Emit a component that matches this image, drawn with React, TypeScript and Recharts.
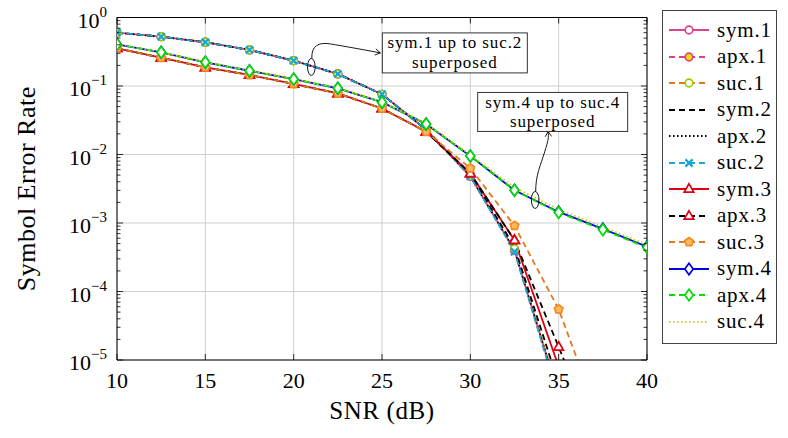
import { CartesianGrid, Label, Line, LineChart, ReferenceDot, XAxis, YAxis } from "recharts";

const FONT = "'Liberation Serif', 'DejaVu Serif', serif";

// SNR grid (dB) and symbol error rates per receiver
const snr = [10, 12.5, 15, 17.5, 20, 22.5, 25, 27.5, 30, 32.5, 35, 37.5, 40];

const sym1 = [0.6, 0.525, 0.435, 0.336, 0.234, 0.15, 0.0757, 0.023, 0.0048, 0.0004, 3e-6, null, null];
const apx1 = [0.6, 0.525, 0.435, 0.336, 0.234, 0.15, 0.0757, 0.023, 0.0048, 0.0004, 3e-6, null, null];
const suc1 = [0.6, 0.525, 0.435, 0.336, 0.234, 0.15, 0.0757, 0.023, 0.0049, 0.00042, 3.2e-6, null, null];
const sym2 = [0.6, 0.525, 0.435, 0.336, 0.234, 0.15, 0.0757, 0.023, 0.0051, 0.00045, 4.5e-6, null, null];
const apx2 = [0.6, 0.525, 0.435, 0.336, 0.234, 0.15, 0.0757, 0.023, 0.0048, 0.0004, 3e-6, null, null];
const suc2 = [0.6, 0.525, 0.435, 0.336, 0.234, 0.15, 0.0757, 0.023, 0.0048, 0.00038, 2.7e-6, null, null];

const sym3 = [0.355, 0.259, 0.187, 0.145, 0.107, 0.078, 0.047, 0.0215, 0.0053, 0.00056, 8e-6, null, null];
const apx3 = [0.355, 0.259, 0.187, 0.145, 0.107, 0.078, 0.047, 0.0215, 0.0053, 0.00056, 1.55e-5, 4e-7, null];
const suc3 = [0.355, 0.259, 0.187, 0.145, 0.107, 0.078, 0.047, 0.0215, 0.0063, 0.00091, 5.5e-5, 1e-6, null];

const sym4 = [0.406, 0.31, 0.222, 0.167, 0.126, 0.0925, 0.058, 0.0279, 0.0095, 0.003, 0.00145, 0.00082, 0.00045];
const apx4 = [0.406, 0.31, 0.222, 0.167, 0.126, 0.0925, 0.058, 0.0279, 0.0095, 0.003, 0.00142, 0.0008, 0.00044];
const suc4 = [0.41, 0.313, 0.225, 0.17, 0.128, 0.094, 0.059, 0.0285, 0.0099, 0.0033, 0.00157, 0.00088, 0.00048];

const xTicks = [10, 15, 20, 25, 30, 35, 40];
const decades = [1e-5, 1e-4, 1e-3, 1e-2, 1e-1, 1];
const exponents = ["−5", "−4", "−3", "−2", "−1", "0"];

// all log ticks: 1..9 × each decade
const yTicks: number[] = [];
decades.forEach((d, i) => {
  if (i === decades.length - 1) {
    yTicks.push(d);
    return;
  }
  for (let m = 1; m < 10; m++) yTicks.push(+(m * d).toPrecision(3));
});

type Marker = "circle" | "triangle" | "diamond" | "cross" | "pentagon" | "none";

type Series = {
  key: string;
  name: string;
  values: (number | null)[];
  stroke: string;
  dash?: string;
  marker: Marker;
  markStroke?: string;
  markFill?: string;
};

const series: Series[] = [
  { key: "sym1", name: "sym.1", values: sym1, stroke: "#d9428f", marker: "circle", markStroke: "#d9428f", markFill: "#fff" },
  { key: "apx1", name: "apx.1", values: apx1, stroke: "#d9428f", dash: "6 4", marker: "circle", markStroke: "#d9428f", markFill: "#f2e200" },
  { key: "suc1", name: "suc.1", values: suc1, stroke: "#e07a1c", dash: "6 4", marker: "circle", markStroke: "#9ccc00", markFill: "#fff" },
  { key: "sym2", name: "sym.2", values: sym2, stroke: "#000", dash: "6 4", marker: "none" },
  { key: "apx2", name: "apx.2", values: apx2, stroke: "#000", dash: "1.5 2.5", marker: "none" },
  { key: "suc2", name: "suc.2", values: suc2, stroke: "#1ba6d4", dash: "6 4", marker: "cross", markStroke: "#1ba6d4" },
  { key: "sym3", name: "sym.3", values: sym3, stroke: "#e00012", marker: "triangle", markStroke: "#e00012", markFill: "#fff" },
  { key: "apx3", name: "apx.3", values: apx3, stroke: "#000", dash: "6 4", marker: "triangle", markStroke: "#e00012", markFill: "#fff" },
  { key: "suc3", name: "suc.3", values: suc3, stroke: "#e07a1c", dash: "6 4", marker: "pentagon", markStroke: "#f58a1f", markFill: "#f8b860" },
  { key: "sym4", name: "sym.4", values: sym4, stroke: "#0000e6", marker: "diamond", markStroke: "#0000e6", markFill: "#fff" },
  { key: "apx4", name: "apx.4", values: apx4, stroke: "#00e000", dash: "6 4", marker: "diamond", markStroke: "#00e000", markFill: "#fff" },
  { key: "suc4", name: "suc.4", values: suc4, stroke: "#e8c21a", dash: "1.5 2.5", marker: "none" },
];

const rows = snr.map((s, i) => {
  const row: Record<string, number | null> = { snr: s };
  series.forEach((se) => {
    row[se.key] = se.values[i];
  });
  return row;
});

function MarkerShape({ kind, x, y, stroke, fill }: { kind: Marker; x: number; y: number; stroke?: string; fill?: string }) {
  const sw = 1.7;
  switch (kind) {
    case "circle":
      return <circle cx={x} cy={y} r={3.8} stroke={stroke} strokeWidth={sw} fill={fill} />;
    case "triangle":
      return <polygon points={`${x},${y - 5.2} ${x + 4.8},${y + 3.2} ${x - 4.8},${y + 3.2}`} stroke={stroke} strokeWidth={sw} fill={fill} />;
    case "diamond":
      return <polygon points={`${x},${y - 5.8} ${x + 4.2},${y} ${x},${y + 5.8} ${x - 4.2},${y}`} stroke={stroke} strokeWidth={sw} fill={fill} />;
    case "cross":
      return (
        <path d={`M${x - 3.6},${y - 3.6}L${x + 3.6},${y + 3.6}M${x - 3.6},${y + 3.6}L${x + 3.6},${y - 3.6}`} stroke={stroke} strokeWidth={2.3} />
      );
    case "pentagon": {
      const pts = [0, 1, 2, 3, 4]
        .map((k) => {
          const a = -Math.PI / 2 + (k * 2 * Math.PI) / 5;
          return `${x + 4.5 * Math.cos(a)},${y + 4.5 * Math.sin(a)}`;
        })
        .join(" ");
      return <polygon points={pts} stroke={stroke} strokeWidth={sw} fill={fill} />;
    }
    default:
      return null;
  }
}

function dotFor(se: Series) {
  if (se.marker === "none") return false;
  return (p: any) => {
    const { cx, cy, index, value } = p;
    if (cx == null || cy == null || value == null) return <g key={`${se.key}-${index}`} />;
    return (
      <g key={`${se.key}-${index}`}>
        <MarkerShape kind={se.marker} x={cx} y={cy} stroke={se.markStroke} fill={se.markFill} />
      </g>
    );
  };
}

const isDecade = (v: number) => Math.abs(Math.log10(v) - Math.round(Math.log10(v))) < 1e-6;

function LeftTick({ x, y, payload }: any) {
  const v = payload.value as number;
  const major = isDecade(v);
  const idx = decades.findIndex((d) => Math.abs(d - v) / d < 1e-6);
  return (
    <g>
      <line x1={x} x2={x + (major ? 6 : 3.5)} y1={y} y2={y} stroke="#000" strokeWidth={0.8} />
      {major && (
        <text x={x - 10} y={y + 10} textAnchor="end" fontFamily={FONT} fontSize={22} fill="#000">
          10
          <tspan fontSize={15} dy={-11}>
            {exponents[idx]}
          </tspan>
        </text>
      )}
    </g>
  );
}

function RightTick({ x, y, payload }: any) {
  const major = isDecade(payload.value);
  return <line x1={x} x2={x - (major ? 6 : 3.5)} y1={y} y2={y} stroke="#000" strokeWidth={0.8} />;
}

function BottomTick({ x, y, payload }: any) {
  return (
    <g>
      <line x1={x} x2={x} y1={y} y2={y - 6} stroke="#000" strokeWidth={0.8} />
      <text x={x} y={y + 28} textAnchor="middle" fontFamily={FONT} fontSize={22} fill="#000">
        {payload.value}
      </text>
    </g>
  );
}

function TopTick({ x, y }: any) {
  return <line x1={x} x2={x} y1={y} y2={y + 6} stroke="#000" strokeWidth={0.8} />;
}

function arrowHead(tx: number, ty: number, angle: number) {
  const len = 6;
  const spread = 0.55;
  const a1 = angle + Math.PI - spread;
  const a2 = angle + Math.PI + spread;
  return `M${tx + len * Math.cos(a1)},${ty + len * Math.sin(a1)} L${tx},${ty} L${tx + len * Math.cos(a2)},${ty + len * Math.sin(a2)}`;
}

// ellipse around a bundle of curves, with a curved arrow to a two-line note
function Note({
  cx,
  cy,
  lines,
  box,
  curve,
  tip,
  angle,
}: {
  cx: number;
  cy: number;
  lines: string[];
  box: { dx: number; dy: number; w: number; h: number };
  curve: string;
  tip: [number, number];
  angle: number;
}) {
  const bx = cx + box.dx;
  const by = cy + box.dy;
  return (
    <g fontFamily={FONT}>
      <ellipse cx={cx} cy={cy} rx={3.8} ry={8.5} fill="none" stroke="#000" strokeWidth={0.9} />
      <path d={curve} transform={`translate(${cx},${cy})`} fill="none" stroke="#000" strokeWidth={0.9} />
      <path d={arrowHead(cx + tip[0], cy + tip[1], angle)} fill="none" stroke="#000" strokeWidth={0.9} />
      <rect x={bx} y={by} width={box.w} height={box.h} fill="#fff" stroke="#333" strokeWidth={1} />
      {lines.map((t, i) => (
        <text
          key={t}
          x={bx + box.w / 2}
          y={by + 15.5 + i * 19.5}
          textAnchor="middle"
          fontSize={17}
          letterSpacing={0.9}
          fill="#000"
        >
          {t}
        </text>
      ))}
    </g>
  );
}

function Legend() {
  return (
    <div
      style={{
        position: "absolute",
        left: 662,
        top: 10,
        width: 115,
        height: 334,
        border: "1px solid #444",
        background: "#fff",
        boxSizing: "border-box",
        paddingTop: 6,
        fontFamily: FONT,
        fontSize: 21,
      }}
    >
      {series.map((se) => (
        <div key={se.key} style={{ display: "flex", alignItems: "center", height: 26.5 }}>
          <svg width={44} height={14} style={{ marginLeft: 5, marginRight: 5 }}>
            <line x1={1} x2={41} y1={7} y2={7} stroke={se.stroke} strokeWidth={1.8} strokeDasharray={se.dash} />
            <MarkerShape kind={se.marker} x={21} y={7} stroke={se.markStroke} fill={se.markFill} />
          </svg>
          <span style={{ letterSpacing: 0.8 }}>{se.name}</span>
        </div>
      ))}
    </div>
  );
}

export default function App() {
  return (
    <div style={{ position: "absolute", left: 0, top: 0, width: 788, height: 438, background: "#fff" }}>
      <LineChart width={788} height={438} data={rows} margin={{ top: 16.5, right: 140, bottom: 0, left: 0 }}>
        <CartesianGrid horizontalValues={decades} verticalValues={xTicks} stroke="#cfcfcf" strokeWidth={1} />
        <XAxis
          dataKey="snr"
          type="number"
          domain={[10, 40]}
          ticks={xTicks}
          interval={0}
          height={78}
          tickSize={0}
          tickMargin={0}
          tick={BottomTick}
          axisLine={{ stroke: "#000", strokeWidth: 1 }}
          allowDataOverflow
        >
          <Label
            content={({ viewBox }: any) => (
              <text
                x={viewBox.x + viewBox.width / 2}
                y={viewBox.y + 59}
                textAnchor="middle"
                fontFamily={FONT}
                fontSize={25}
                letterSpacing={0.6}
                fill="#000"
              >
                SNR (dB)
              </text>
            )}
          />
        </XAxis>
        <XAxis
          xAxisId="top"
          orientation="top"
          dataKey="snr"
          type="number"
          domain={[10, 40]}
          ticks={xTicks}
          interval={0}
          height={1}
          tickSize={0}
          tickMargin={0}
          tick={TopTick}
          axisLine={{ stroke: "#000", strokeWidth: 1 }}
          allowDataOverflow
        />
        <YAxis
          type="number"
          scale="log"
          domain={[1e-5, 1]}
          ticks={yTicks}
          interval={0}
          width={117}
          tickSize={0}
          tickMargin={0}
          tick={LeftTick}
          axisLine={{ stroke: "#000", strokeWidth: 1 }}
          allowDataOverflow
        >
          <Label
            content={({ viewBox }: any) => {
              const cx = 35;
              const cy = viewBox.y + viewBox.height / 2;
              return (
                <text
                  x={cx}
                  y={cy}
                  transform={`rotate(-90, ${cx}, ${cy})`}
                  textAnchor="middle"
                  fontFamily={FONT}
                  fontSize={26}
                  letterSpacing={0.5}
                  fill="#000"
                >
                  Symbol Error Rate
                </text>
              );
            }}
          />
        </YAxis>
        <YAxis
          yAxisId="right"
          orientation="right"
          type="number"
          scale="log"
          domain={[1e-5, 1]}
          ticks={yTicks}
          interval={0}
          width={1}
          tickSize={0}
          tickMargin={0}
          tick={RightTick}
          axisLine={{ stroke: "#000", strokeWidth: 1 }}
          allowDataOverflow
        />
        {series.map((se) => (
          <Line
            key={se.key}
            dataKey={se.key}
            type="linear"
            stroke={se.stroke}
            strokeWidth={1.8}
            strokeDasharray={se.dash}
            dot={dotFor(se)}
            activeDot={false}
            isAnimationActive={false}
          />
        ))}
        <ReferenceDot
          x={21}
          y={0.19}
          shape={(p: any) => (
            <Note
              cx={p.cx}
              cy={p.cy}
              lines={["sym.1 up to suc.2", "superposed"]}
              box={{ dx: 71, dy: -34, w: 145, h: 40 }}
              curve="M0.5,-8.5 C0,-21 7,-25 19,-23 S59,-16 69,-14"
              tip={[69, -14]}
              angle={0.18}
            />
          )}
        />
        <ReferenceDot
          x={33.67}
          y={0.00217}
          shape={(p: any) => (
            <Note
              cx={p.cx}
              cy={p.cy}
              lines={["sym.4 up to suc.4", "superposed"]}
              box={{ dx: -57.5, dy: -107.5, w: 150, h: 39 }}
              curve="M0.5,-8.5 C0.5,-25 5.5,-35 9.5,-48 S13.5,-62 13,-68.5"
              tip={[13, -68.5]}
              angle={-1.62}
            />
          )}
        />
      </LineChart>
      <Legend />
    </div>
  );
}
